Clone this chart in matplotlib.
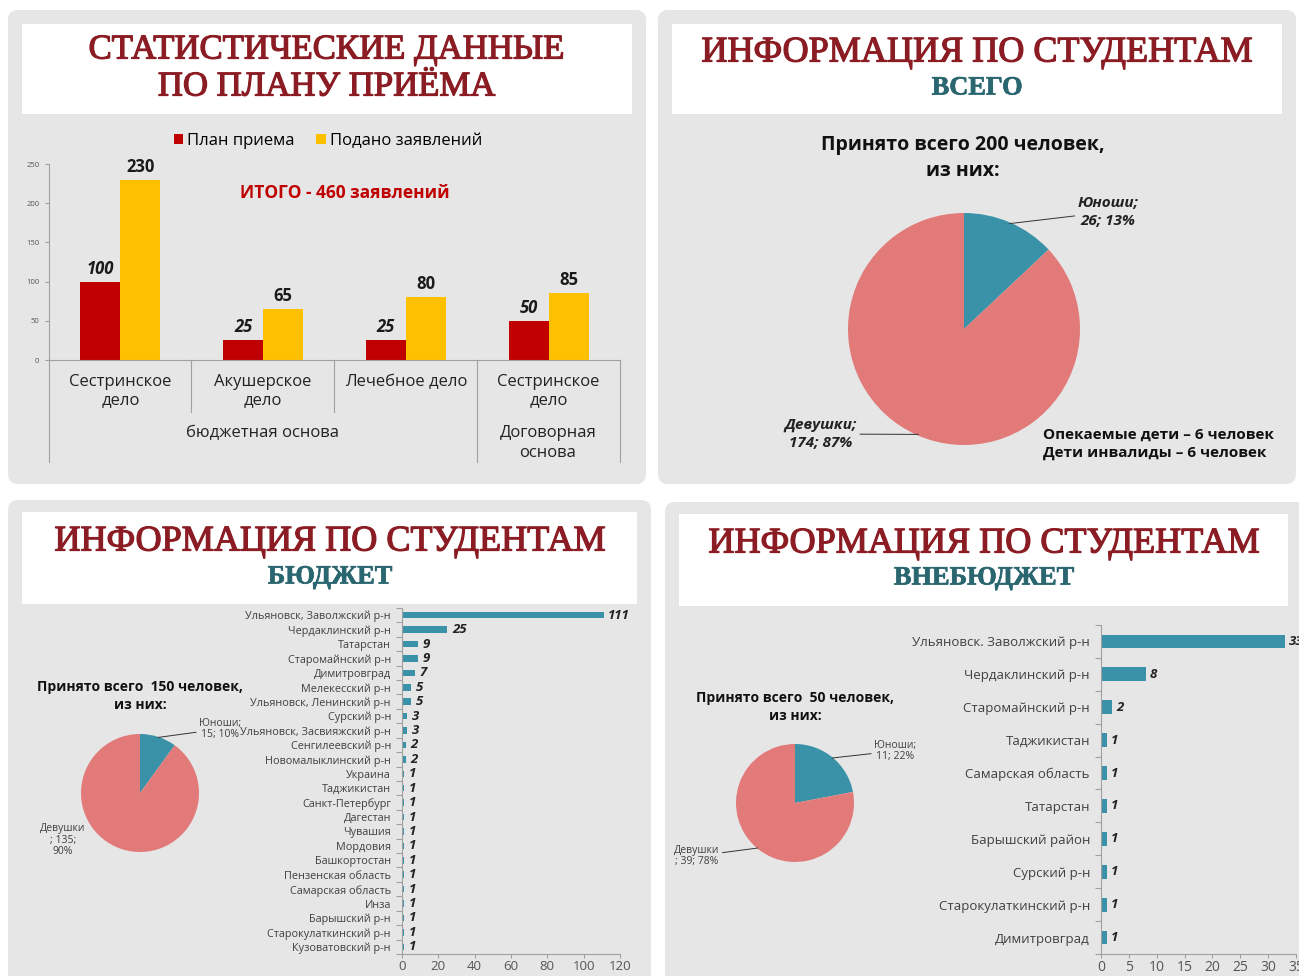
import matplotlib
matplotlib.use('Agg')
import matplotlib.pyplot as plt
from matplotlib.patches import FancyBboxPatch, Rectangle
import matplotlib.patheffects as pe
import numpy as np

W, H = 1299, 976
plt.rcParams['font.family'] = ['Open Sans', 'DejaVu Sans']
SERIF = ['Liberation Serif', 'DejaVu Serif']

# ---------------- data ----------------
plan_categories = ['Сестринское\nдело', 'Акушерское\nдело', 'Лечебное дело', 'Сестринское\nдело']
plan_values = [100, 25, 25, 50]
applied_values = [230, 65, 80, 85]
plan_series = ['План приема', 'Подано заявлений']
plan_groups = ['бюджетная основа', 'Договорная\nоснова']
plan_yticks = [0, 50, 100, 150, 200, 250]

pie_labels = ['Юноши', 'Девушки']
total_values = [26, 174]
budget_pie_values = [15, 135]
extra_pie_values = [11, 39]

budget_regions = ['Ульяновск, Заволжский р-н', 'Чердаклинский р-н', 'Татарстан',
                  'Старомайнский р-н', 'Димитровград', 'Мелекесский р-н',
                  'Ульяновск, Ленинский р-н', 'Сурский р-н', 'Ульяновск, Засвияжский р-н',
                  'Сенгилеевский р-н', 'Новомалыклинский р-н', 'Украина', 'Таджикистан',
                  'Санкт-Петербург', 'Дагестан', 'Чувашия', 'Мордовия', 'Башкортостан',
                  'Пензенская область', 'Самарская область', 'Инза', 'Барышский р-н',
                  'Старокулаткинский р-н', 'Кузоватовский р-н']
budget_counts = [111, 25, 9, 9, 7, 5, 5, 3, 3, 2, 2, 1, 1, 1, 1, 1, 1, 1, 1, 1, 1, 1, 1, 1]
budget_xticks = [0, 20, 40, 60, 80, 100, 120]

extra_regions = ['Ульяновск. Заволжский р-н', 'Чердаклинский р-н', 'Старомайнский р-н',
                 'Таджикистан', 'Самарская область', 'Татарстан', 'Барышский район',
                 'Сурский р-н', 'Старокулаткинский р-н', 'Димитровград']
extra_counts = [33, 8, 2, 1, 1, 1, 1, 1, 1, 1]
extra_xticks = [0, 5, 10, 15, 20, 25, 30, 35]

# ---------------- style ----------------
RED = '#c00000'
YELLOW = '#ffc000'
TEAL = '#3a92a8'
PINK = '#e27a7a'
PANEL = '#e6e6e6'
TITLE_RED = '#8b1c23'
SUB_TEAL = '#2a6670'
GRAY_TXT = '#404040'
AX_GRAY = '#a0a0a0'


def rect(x0, y0, x1, y1):
    return [x0 / W, 1 - y1 / H, (x1 - x0) / W, (y1 - y0) / H]


fig = plt.figure(figsize=(W / 100, H / 100), dpi=100)
fig.patch.set_facecolor('white')
bg = fig.add_axes([0, 0, 1, 1])
bg.set_xlim(0, W)
bg.set_ylim(H, 0)
bg.axis('off')

# panels
for (x0, y0, x1, y1) in [(8, 10, 646, 484), (658, 10, 1296, 484),
                         (8, 500, 651, 990), (665, 502, 1310, 990)]:
    bg.add_patch(FancyBboxPatch((x0, y0), x1 - x0, y1 - y0,
                                boxstyle='round,pad=0,rounding_size=10',
                                fc=PANEL, ec='none'))
for (x0, y0, x1, y1) in [(22, 24, 632, 114), (672, 24, 1282, 114),
                         (22, 512, 637, 604), (679, 514, 1288, 606)]:
    bg.add_patch(Rectangle((x0, y0), x1 - x0, y1 - y0, fc='white', ec='none'))

# titles
heavy = [pe.withStroke(linewidth=0.9, foreground=TITLE_RED)]
heavy_sub = [pe.withStroke(linewidth=0.5, foreground=SUB_TEAL)]
bg.text(327, 50, 'СТАТИСТИЧЕСКИЕ ДАННЫЕ', family=SERIF, fontsize=25,
        color=TITLE_RED, ha='center', va='center', path_effects=heavy)
bg.text(327, 87, 'ПО ПЛАНУ ПРИЁМА', family=SERIF, fontsize=25,
        color=TITLE_RED, ha='center', va='center', path_effects=heavy)
for cx, y1, y2, sub in [(977, 53, 88, 'ВСЕГО'), (330, 542, 577, 'БЮДЖЕТ'),
                        (984, 544, 578, 'ВНЕБЮДЖЕТ')]:
    bg.text(cx, y1, 'ИНФОРМАЦИЯ ПО СТУДЕНТАМ', family=SERIF, fontsize=26,
            color=TITLE_RED, ha='center', va='center', path_effects=heavy)
    bg.text(cx, y2, sub, family=SERIF, fontsize=19, fontweight='bold',
            color=SUB_TEAL, ha='center', va='center', path_effects=heavy_sub)

# ---------------- chart 1: plan bars ----------------
ax1 = fig.add_axes(rect(49, 164, 620, 360))
ax1.set_facecolor('none')
x = np.arange(len(plan_categories))
bw = 0.28
ax1.bar(x - bw / 2, plan_values, bw, color=RED, label=plan_series[0])
ax1.bar(x + bw / 2, applied_values, bw, color=YELLOW, label=plan_series[1])
for xi, v in zip(x, plan_values):
    ax1.text(xi - bw / 2, v + 5, str(v), ha='center', va='bottom', fontsize=12,
             fontweight='bold', fontstyle='italic', color='#1a1a1a')
for xi, v in zip(x, applied_values):
    ax1.text(xi + bw / 2, v + 5, str(v), ha='center', va='bottom', fontsize=12,
             fontweight='bold', color='#1a1a1a')
ax1.set_xlim(-0.5, len(plan_categories) - 0.5)
ax1.set_ylim(0, 250)
ax1.set_yticks(plan_yticks)
ax1.tick_params(axis='y', labelsize=5.5, labelcolor='#555555', length=3,
                color=AX_GRAY, width=0.8, pad=4)
ax1.set_xticks(x)
ax1.set_xticklabels(plan_categories, fontsize=12, color='#222222')
ax1.tick_params(axis='x', length=0, pad=10)
for s in ['top', 'right']:
    ax1.spines[s].set_visible(False)
for s in ['left', 'bottom']:
    ax1.spines[s].set_color(AX_GRAY)
    ax1.spines[s].set_linewidth(0.8)
ax1.legend(loc='center', bbox_to_anchor=(328 / W, 1 - 141 / H),
           bbox_transform=fig.transFigure, ncol=2, frameon=False, fontsize=12,
           handlelength=0.55, handleheight=0.55, handletextpad=0.25,
           columnspacing=1.3)
bg.text(345, 193, 'ИТОГО - 460 заявлений', color=RED, fontsize=12.5,
        fontweight='bold', ha='center', va='center')
# multi-level category separators
for xs in [191, 334]:
    bg.plot([xs, xs], [360, 412], color=AX_GRAY, lw=0.8)
for xs in [49, 477, 620]:
    bg.plot([xs, xs], [360, 462], color=AX_GRAY, lw=0.8)
bg.text(263, 433, plan_groups[0], fontsize=12, color='#222222', ha='center', va='center')
bg.text(548, 443, plan_groups[1], fontsize=12, color='#222222', ha='center', va='center',
        linespacing=1.3)


# ---------------- pies ----------------
def draw_pie(box, values, text_pos, fontsize, bold, title, title_pos, title_fs):
    ax = fig.add_axes(rect(*box))
    ax.pie(values, colors=[TEAL, PINK], startangle=90, counterclock=False,
           radius=1, wedgeprops=dict(linewidth=0))
    ax.set_xlim(-1, 1)
    ax.set_ylim(-1, 1)
    total = sum(values)
    start = 90.0
    for lab, v, tp in zip(pie_labels, values, text_pos):
        span = 360.0 * v / total
        mid = np.deg2rad(start - span / 2)
        start -= span
        pct = round(100 * v / total)
        txt = tp[3].format(lab=lab, v=v, p=pct)
        arrow = dict(arrowstyle='-', color='#333333', lw=0.7,
                     shrinkA=0, shrinkB=0) if tp[4] else None
        ax.annotate(txt, xy=(np.cos(mid) * 0.99, np.sin(mid) * 0.99),
                    xytext=(tp[0], tp[1]), textcoords=bg.transData,
                    ha='center', va='center', fontsize=fontsize,
                    fontweight='bold' if bold else 'normal',
                    fontstyle='italic' if bold else 'normal',
                    color='#222222' if bold else GRAY_TXT, linespacing=tp[2],
                    arrowprops=arrow)
    bg.text(title_pos[0], title_pos[1], title, ha='center', va='center',
            fontsize=title_fs, fontweight='bold', color='#111111', linespacing=1.4)


draw_pie((848, 213, 1080, 445), total_values,
         [(1108, 212, 1.3, '{lab};\n{v}; {p}%', True),
          (821, 434, 1.3, '{lab};\n{v}; {p}%', True)],
         11, True, 'Принято всего 200 человек,\nиз них:', (963, 158), 14)
bg.text(1043, 444, 'Опекаемые дети – 6 человек\nДети инвалиды – 6 человек',
        ha='left', va='center', fontsize=11, fontweight='bold', color='#111111',
        linespacing=1.3)

draw_pie((81, 734, 199, 852), budget_pie_values,
         [(220, 729, 1.1, '{lab};\n{v}; {p}%', True),
          (63, 840, 1.1, '{lab}\n; {v};\n{p}%', False)],
         7.5, False, 'Принято всего  150 человек,\nиз них:', (140, 696), 10)

draw_pie((736, 744, 854, 862), extra_pie_values,
         [(895, 751, 1.1, '{lab};\n{v}; {p}%', True),
          (697, 856, 1.1, '{lab}\n; {v}; {p}%', True)],
         7.5, False, 'Принято всего  50 человек,\nиз них:', (795, 707), 10)


# ---------------- region bars ----------------
def region_bars(box, regions, counts, xticks, bar_h, lab_fs, val_fs, tick_fs, off):
    ax = fig.add_axes(rect(*box))
    ax.set_facecolor('none')
    y = np.arange(len(regions))
    ax.barh(y, counts, height=bar_h, color=TEAL)
    ax.set_ylim(len(regions) - 0.5, -0.5)
    ax.set_xlim(xticks[0], xticks[-1])
    ax.set_yticks(y)
    ax.set_yticklabels(regions, fontsize=lab_fs, color=GRAY_TXT)
    ax.set_yticks(np.arange(len(regions) + 1) - 0.5, minor=True)
    ax.tick_params(axis='y', which='major', length=0, pad=8)
    ax.tick_params(axis='y', which='minor', length=4, color=AX_GRAY, width=0.8)
    ax.set_xticks(xticks)
    ax.tick_params(axis='x', labelsize=tick_fs, labelcolor='#555555', length=3,
                   color=AX_GRAY, width=0.8, pad=1.5)
    for s in ['top', 'right']:
        ax.spines[s].set_visible(False)
    for s in ['left', 'bottom']:
        ax.spines[s].set_color(AX_GRAY)
        ax.spines[s].set_linewidth(0.8)
    for yi, v in zip(y, counts):
        ax.text(v + off, yi, str(v), va='center', ha='left', fontsize=val_fs,
                fontweight='bold', fontstyle='italic', color='#222222', clip_on=False)
    return ax


region_bars((402, 608, 620, 954), budget_regions, budget_counts, budget_xticks,
            0.45, 7.8, 9.5, 9.5, 2.5)
region_bars((1101, 625, 1296, 954), extra_regions, extra_counts, extra_xticks,
            0.42, 9.5, 9.5, 10, 0.8)

fig.savefig('out.png', dpi=100, facecolor='white')
